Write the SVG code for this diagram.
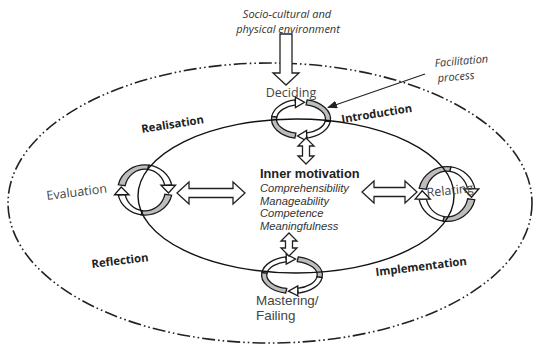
<svg xmlns="http://www.w3.org/2000/svg" width="533" height="344" viewBox="0 0 533 344">
<style>
.t{font-family:"Open Sans","Liberation Sans",sans-serif;}
.l{font-family:"Liberation Sans",Arial,sans-serif;}
.it{font-style:italic;font-size:11px;fill:#333;}
.b{font-weight:bold;font-size:11.3px;fill:#222;}
.g{font-size:12.5px;fill:#444;}
.blk{fill:#fff;stroke:#222;stroke-width:1.3;stroke-linejoin:miter;}
.band{stroke:#1a1a1a;stroke-width:1.3;vector-effect:non-scaling-stroke;}
.grey{fill:#bdbdbd;}
.white{fill:#fff;}
</style>
<defs>
<marker id="ah" markerWidth="10" markerHeight="8" refX="9" refY="4" orient="auto" markerUnits="userSpaceOnUse">
<path d="M0,0 L10,4 L0,8 Z" fill="#222"/>
</marker>
<g id="cyc">
<path class="band grey" d="M6.13,-19.07 A29.5,19.5 0 0 1 29.21,2.71 L24.26,2.02 A24.5,14.5 0 0 0 5.09,-14.18 Z"/>
<path class="band grey" d="M-6.13,19.07 A29.5,19.5 0 0 1 -29.21,-2.71 L-24.26,-2.02 A24.5,14.5 0 0 0 -5.09,14.18 Z"/>
<path class="band white" d="M29.21,2.71 A29.5,19.5 0 0 1 6.13,19.07 L5.09,14.18 A24.5,14.5 0 0 0 24.26,2.02 Z"/>
<polygon class="band white" points="5.6,11.4 5.6,21.8 -3.5,17"/>
<path class="band white" d="M-29.21,-2.71 A29.5,19.5 0 0 1 -6.13,-19.07 L-5.09,-14.18 A24.5,14.5 0 0 0 -24.26,-2.02 Z"/>
<polygon class="band white" points="-5.6,-21.8 -5.6,-11.4 3.5,-16.8"/>
</g>
</defs>

<g id="outer-boundary">
<ellipse cx="270" cy="203" rx="262" ry="140" fill="none" stroke="#222" stroke-width="1.6" stroke-dasharray="13 3 1.6 3 1.6 3"/>
</g>

<g id="cycle-deciding"><use href="#cyc" transform="translate(301,119)"/></g>
<g id="cycle-mastering"><use href="#cyc" transform="translate(292,275) scale(1.03,0.95)"/></g>
<g id="cycle-evaluation"><use href="#cyc" transform="translate(145,190) rotate(90) scale(0.85,1.4)"/></g>
<g id="cycle-relating"><use href="#cyc" transform="translate(447,194) rotate(90) scale(0.93,1.46)"/></g>

<g id="inner-cycle">
<ellipse cx="296" cy="196" rx="158" ry="77" fill="none" stroke="#111" stroke-width="1.4"/>
</g>

<g id="connectors">
<path class="blk" d="M280,34 L292,34 L292,73 L299,73 L286,85 L273,73 L280,73 Z"/>
<path class="blk" d="M306,138 L314,146 L309.5,146 L309.5,156 L314,156 L306,164 L298,156 L302.5,156 L302.5,146 L298,146 Z"/>
<path class="blk" d="M289,233 L297,241 L292.5,241 L292.5,248 L297,248 L289,256 L281,248 L285.5,248 L285.5,241 L281,241 Z"/>
<path class="blk" d="M177,193 L189,182 L189,188.5 L233,188.5 L233,182 L245,193 L233,204 L233,197.5 L189,197.5 L189,204 Z"/>
<path class="blk" d="M362,192 L374,181 L374,187.5 L405,187.5 L405,181 L417,192 L405,203 L405,196.5 L374,196.5 L374,203 Z"/>
<line x1="425" y1="74" x2="328" y2="107.5" stroke="#222" stroke-width="1.1" marker-end="url(#ah)"/>
</g>

<g id="environment">
<text class="t it" x="287" y="18" text-anchor="middle">Socio-cultural and</text>
<text class="t it" x="288" y="33" text-anchor="middle">physical environment</text>
</g>
<g id="facilitation">
<text class="t it" transform="translate(435,67) rotate(-5)">Facilitation</text>
<text class="t it" transform="translate(438,82) rotate(-5)">process</text>
</g>
<g id="label-deciding"><text class="t g" x="291" y="97" text-anchor="middle">Deciding</text></g>
<g id="label-realisation"><text class="t b" transform="translate(142,133) rotate(-9)">Realisation</text></g>
<g id="label-introduction"><text class="t b" transform="translate(342,123) rotate(-9)">Introduction</text></g>
<g id="label-evaluation"><text class="t g" transform="translate(47,200) rotate(-7)">Evaluation</text></g>
<g id="label-relating"><text class="t g" transform="translate(427,197) rotate(-6)">Relating</text></g>
<g id="label-reflection"><text class="t b" transform="translate(92,268) rotate(-7)">Reflection</text></g>
<g id="label-implementation"><text class="t b" transform="translate(376,276) rotate(-7)">Implementation</text></g>
<g id="inner-motivation">
<text class="l" x="260" y="178" style="font-weight:bold;font-size:12.8px;fill:#222">Inner motivation</text>
<text class="l it" x="260" y="192" style="font-size:11.2px">Comprehensibility</text>
<text class="l it" x="260" y="204.6" style="font-size:11.2px">Manageability</text>
<text class="l it" x="260" y="217.2" style="font-size:11.2px">Competence</text>
<text class="l it" x="260" y="229.8" style="font-size:11.2px">Meaningfulness</text>
</g>
<g id="label-mastering">
<text class="l g" x="256" y="305" style="font-size:13.4px">Mastering/</text>
<text class="l g" x="256" y="320" style="font-size:13.4px">Failing</text>
</g>
</svg>
